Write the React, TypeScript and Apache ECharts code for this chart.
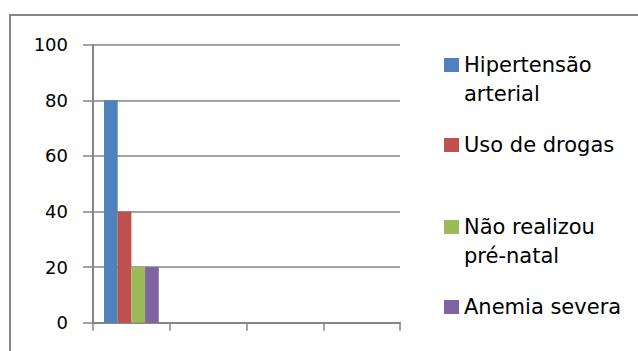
import React, { useEffect, useRef } from "react";
import * as echarts from "echarts";

const categories: string[] = ["", "", "", ""];
const seriesNames: string[] = [
  "Hipertensão arterial",
  "Uso de drogas",
  "Não realizou pré-natal",
  "Anemia severa",
];
const hipertensao: (number | null)[] = [80, null, null, null];
const usoDrogas: (number | null)[] = [40, null, null, null];
const preNatal: (number | null)[] = [20, null, null, null];
const anemia: (number | null)[] = [20, null, null, null];
const yTicks: number[] = [0, 20, 40, 60, 80, 100];

const colors = ["#4F81BD", "#C0504D", "#9BBB59", "#8064A2"];
const legendLabels: Record<string, string> = {
  "Hipertensão arterial": "\u00a0\nHipertensão\narterial",
  "Uso de drogas": "Uso de drogas",
  "Não realizou pré-natal": "\u00a0\nNão realizou\npré-natal",
  "Anemia severa": "Anemia severa",
};

export default function App() {
  const ref = useRef<HTMLDivElement>(null);
  useEffect(() => {
    if (!ref.current) return;
    const chart = echarts.init(ref.current, null, { renderer: "svg" });
    const gray = "#868686";
    const L = 29;
    const values = [hipertensao, usoDrogas, preNatal, anemia];
    const legendTops = [21.5, 130.5, 183.5, 292.5];
    const legends = seriesNames.map((name, i) => ({
      show: true,
      orient: "vertical",
      left: 444,
      top: legendTops[i],
      padding: 0,
      itemWidth: 15,
      itemHeight: 14,
      selectedMode: false,
      icon: "rect",
      data: [name],
      formatter: (n: string) => legendLabels[n],
      textStyle: {
        fontFamily: "DejaVu Sans",
        fontSize: 21,
        color: "#000",
        lineHeight: L,
      },
    }));
    chart.setOption({
      animation: false,
      color: colors,
      graphic: [
        {
          type: "rect",
          shape: { x: 10, y: 15, width: 700, height: 400 },
          style: { fill: "none", stroke: "#878787", lineWidth: 2 },
        },
      ],
      legend: legends,
      grid: { left: 93, top: 44.7, width: 307, height: 278, containLabel: false },
      xAxis: {
        type: "category",
        data: categories,
        boundaryGap: true,
        axisLine: { show: true, lineStyle: { color: gray, width: 2 } },
        axisTick: { show: true, length: 8, alignWithLabel: false, lineStyle: { color: gray, width: 1.5 } },
        axisLabel: { show: false },
        splitLine: { show: false },
      },
      yAxis: {
        type: "value",
        min: yTicks[0],
        max: yTicks[yTicks.length - 1],
        interval: 20,
        axisLine: { show: true, lineStyle: { color: gray, width: 2 } },
        axisTick: { show: true, length: 10, lineStyle: { color: gray, width: 1.5 } },
        axisLabel: {
          margin: 25,
          fontFamily: "DejaVu Sans",
          fontSize: 18,
          color: "#000",
        },
        splitLine: { show: true, lineStyle: { color: gray, width: 1.5 } },
      },
      series: seriesNames.map((name, i) => ({
        name,
        type: "bar",
        data: values[i],
        barGap: "0%",
        barCategoryGap: "28.6%",
        itemStyle: { color: colors[i] },
      })),
    });
    return () => chart.dispose();
  }, []);
  return (
    <div
      ref={ref}
      style={{ position: "absolute", left: 0, top: 0, width: 638, height: 351, background: "#fff" }}
    />
  );
}
